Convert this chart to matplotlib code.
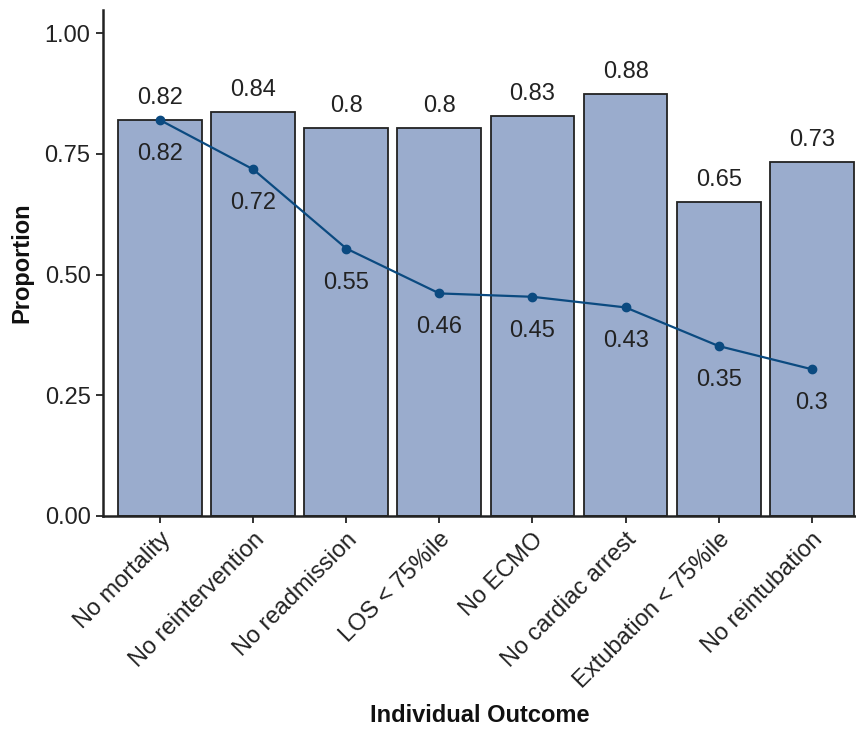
import matplotlib
matplotlib.use("Agg")
import matplotlib.pyplot as plt

categories = ["No mortality", "No reintervention", "No readmission", "LOS < 75%ile",
              "No ECMO", "No cardiac arrest", "Extubation < 75%ile", "No reintubation"]
bar_values = [0.820, 0.836, 0.804, 0.804, 0.829, 0.875, 0.650, 0.733]
line_values = [0.820, 0.718, 0.554, 0.461, 0.454, 0.432, 0.352, 0.304]
yticks = [0.00, 0.25, 0.50, 0.75, 1.00]

plt.rcParams['font.family'] = ['Liberation Sans', 'DejaVu Sans']
text_color = "#222222"

fig = plt.figure(figsize=(8.56, 7.30), dpi=100)
ax = fig.add_axes([103/856, 1 - 516/730, (856-103)/856, (516-10)/730])

x = list(range(len(categories)))
ax.bar(x, bar_values, width=0.9, color="#9aaccd", edgecolor="#222222", linewidth=1.3, zorder=2)
ax.plot(x, line_values, color="#0b4a80", linewidth=1.6, marker="o", markersize=6, zorder=3)

def fmt(v):
    return f"{round(v, 2):g}"

for xi, v in zip(x, bar_values):
    ax.annotate(fmt(v), (xi, v), xytext=(0, 22), textcoords="offset pixels",
                ha="center", va="center", fontsize=17, color=text_color, zorder=4)
for xi, v in zip(x, line_values):
    ax.annotate(fmt(v), (xi, v), xytext=(0, -34), textcoords="offset pixels",
                ha="center", va="center", fontsize=17, color=text_color, zorder=4)

ax.set_xlim(-0.613, 7.475)
ax.set_ylim(0, 1.048)
ax.set_yticks(yticks)
ax.set_yticklabels([f"{t:.2f}" for t in yticks], fontsize=17, color=text_color)
ax.set_xticks(x)
ax.set_xticklabels(categories, rotation=45, ha="right", rotation_mode="anchor",
                   fontsize=17, color=text_color)
ax.tick_params(axis="both", length=5, width=1.3, color="#222222", pad=4)

for s in ["top", "right"]:
    ax.spines[s].set_visible(False)
for s in ["left", "bottom"]:
    ax.spines[s].set_linewidth(1.8)
    ax.spines[s].set_color("#222222")

ax.set_ylabel("Proportion", fontsize=17, fontweight="bold", color="#111111", labelpad=8)
ax.set_xlabel("Individual Outcome", fontsize=17, fontweight="bold", color="#111111", labelpad=8)

fig.savefig("out.png", dpi=100)
